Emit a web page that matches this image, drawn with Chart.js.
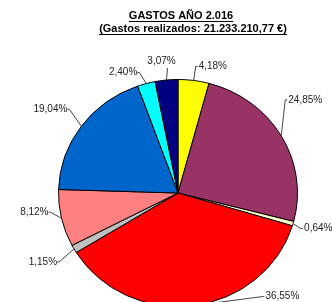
<!DOCTYPE html>
<html>
<head>
<meta charset="utf-8">
<script src="https://cdn.jsdelivr.net/npm/chart.js@4/dist/chart.umd.min.js"></script>
<style>
  html, body { margin: 0; padding: 0; background: #fff; overflow: hidden; }
  #wrap { width: 332px; height: 302px; overflow: hidden; }
</style>
</head>
<body>
<div id="wrap"><canvas id="chart" width="332" height="340"></canvas></div>
<script>
// slices, clockwise from 12 o'clock
const categories = ["Cap. 1", "Cap. 2", "Cap. 3", "Cap. 4", "Cap. 5", "Cap. 6", "Cap. 7", "Cap. 8", "Cap. 9"];
const percentages = [4.18, 24.85, 0.64, 36.55, 1.15, 8.12, 19.04, 2.40, 3.07];
const sliceColors = ["#FFFF00", "#993366", "#FFFFCC", "#FF0000", "#C0C0C0", "#FF8080", "#0066CC", "#00FFFF", "#000080"];
const titleLines = ["GASTOS AÑO 2.016", "(Gastos realizados: 21.233.210,77 €)"];

// label placement relative to the slice edge (elbow offset) and text side
const labelOffsets = [[2, -14], [4, -36], [8, 5], [69, -9], [-15, 13], [-11, -6], [-12, -17], [-7, -11], [1, -12]];
const labelSides = ["left", "left", "left", "left", "right", "right", "right", "right", "top"];

const squash = 0.95; // pie is drawn slightly flattened

const flatten = {
  id: "flatten",
  beforeDatasetsDraw(chart) {
    const arc = chart.getDatasetMeta(0).data[0];
    const ctx = chart.ctx;
    ctx.save();
    ctx.translate(arc.x, arc.y);
    ctx.scale(1, squash);
    ctx.translate(-arc.x, -arc.y);
  },
  afterDatasetsDraw(chart) {
    chart.ctx.restore();
  },
};

const pieLabels = {
  id: "pieLabels",
  afterDraw(chart) {
    const ctx = chart.ctx;
    const arcs = chart.getDatasetMeta(0).data;
    ctx.save();
    ctx.font = "10px 'Liberation Sans', Arial, sans-serif";
    ctx.fillStyle = "#222";
    ctx.strokeStyle = "#444";
    ctx.lineWidth = 1;
    arcs.forEach((arc, i) => {
      const mid = (arc.startAngle + arc.endAngle) / 2;
      const ex = arc.x + arc.outerRadius * Math.cos(mid);
      const ey = arc.y + arc.outerRadius * squash * Math.sin(mid);
      const bx = ex + labelOffsets[i][0];
      const by = ey + labelOffsets[i][1];
      const side = labelSides[i];
      ctx.beginPath();
      ctx.moveTo(ex, ey);
      ctx.lineTo(bx, by);
      if (side === "left") ctx.lineTo(bx + 2, by);
      if (side === "right") ctx.lineTo(bx - 2, by);
      ctx.stroke();
      const txt = percentages[i].toFixed(2).replace(".", ",") + "%";
      ctx.textBaseline = "middle";
      if (side === "left") {
        ctx.textAlign = "left";
        ctx.fillText(txt, bx + 3, by);
      } else if (side === "right") {
        ctx.textAlign = "right";
        ctx.fillText(txt, bx - 2, by);
      } else {
        ctx.textAlign = "center";
        ctx.fillText(txt, bx - 6, by - 7);
      }
    });
    ctx.restore();
  },
};

const underlinedTitle = {
  id: "underlinedTitle",
  afterDraw(chart) {
    const ctx = chart.ctx;
    const centers = [181, 193];
    const baselines = [19, 32];
    ctx.save();
    ctx.font = "bold 11px 'Liberation Sans', Arial, sans-serif";
    ctx.fillStyle = "#000";
    ctx.strokeStyle = "#000";
    ctx.lineWidth = 1;
    ctx.textAlign = "center";
    ctx.textBaseline = "alphabetic";
    titleLines.forEach((line, i) => {
      ctx.fillText(line, centers[i], baselines[i]);
      const w = ctx.measureText(line).width;
      ctx.beginPath();
      ctx.moveTo(centers[i] - w / 2, baselines[i] + 2.5);
      ctx.lineTo(centers[i] + w / 2, baselines[i] + 2.5);
      ctx.stroke();
    });
    ctx.restore();
  },
};

new Chart(document.getElementById("chart"), {
  type: "pie",
  data: {
    labels: categories,
    datasets: [
      {
        data: percentages,
        backgroundColor: sliceColors,
        borderColor: "#000",
        borderWidth: 1,
      },
    ],
  },
  options: {
    responsive: false,
    animation: false,
    events: [],
    layout: {
      padding: { left: 58, right: 34, top: 73, bottom: 27 },
    },
    plugins: {
      legend: { display: false },
      tooltip: { enabled: false },
    },
  },
  plugins: [flatten, pieLabels, underlinedTitle],
});
</script>
</body>
</html>
